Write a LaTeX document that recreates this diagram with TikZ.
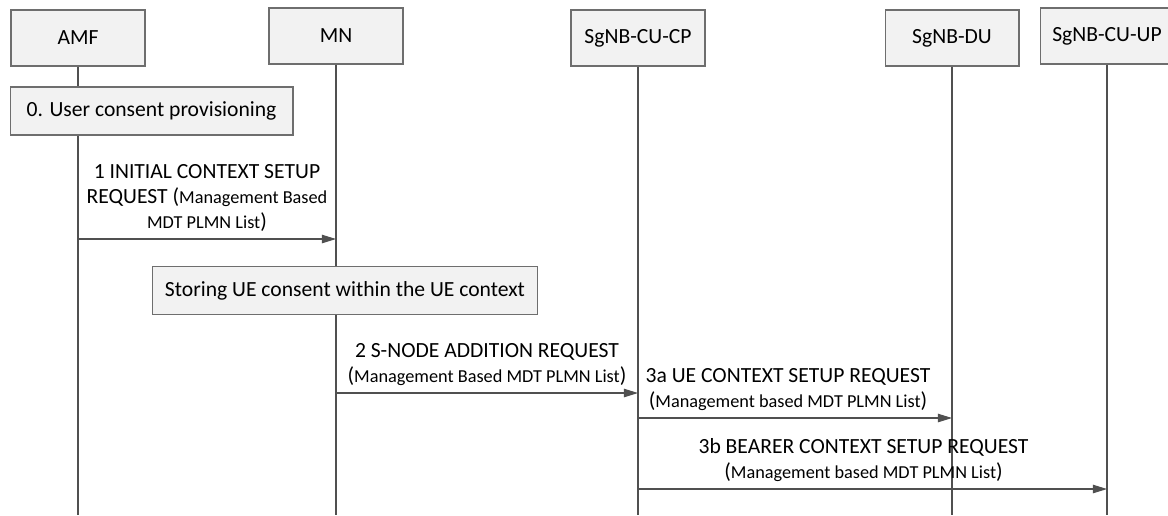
\documentclass[tikz,border=0pt]{standalone}
\usepackage{fontspec}
\setmainfont{Carlito}
\usetikzlibrary{arrows.meta, positioning}

\definecolor{boxfill}{RGB}{242,242,242}
\definecolor{boxline}{RGB}{110,110,110}
\definecolor{linegray}{RGB}{80,80,80}

\newcommand{\msgfont}{\fontsize{12.3}{14.2}\selectfont}
\newcommand{\notefont}{\fontsize{10.4}{14.2}\selectfont}

\tikzset{
  entity/.style={draw=boxline, fill=boxfill, line width=0.6pt, minimum width=2.68cm, minimum height=1.12cm, font=\msgfont},
  action/.style={draw=boxline, fill=boxfill, line width=0.6pt, minimum height=0.96cm, font=\msgfont},
  life/.style={draw=linegray, line width=0.6pt},
  msg/.style={draw=linegray, line width=0.6pt, -{Triangle[length=8pt, width=4.8pt]}},
  lbl/.style={align=center, font=\msgfont, inner sep=1pt}
}

\begin{document}
\begin{tikzpicture}[x=0.02cm, y=-0.02cm]
\useasboundingbox (0,0) rectangle (1168,515);

% lifeline heads
\node[entity] (amf) at (78,38) {AMF};
\node[entity] (mn) at (336,36) {MN};
\node[entity] (cucp) at (638,38) {SgNB-CU-CP};
\node[entity] (du) at (952,38) {SgNB-DU};
\node[entity] (cuup) at (1107,36) {SgNB-CU-UP};

% lifelines
\coordinate (bottom) at (0,515);
\foreach \n in {amf,mn,cucp,du,cuup}
  \draw[life] (\n.south) -- (\n.south |- bottom);

% local actions
\node[action, minimum width=5.66cm] (consent) at (151.5,111) {0. User consent provisioning};
\node[action, minimum width=7.72cm] (store) at (345,290.5) {Storing UE consent within the UE context};

% message rows
\coordinate (m1) at (0,239);
\coordinate (m2) at (0,393);
\coordinate (m3a) at (0,418);
\coordinate (m3b) at (0,489);

% messages
\draw[msg] (amf |- m1) -- node[lbl, above=3pt] {1 INITIAL CONTEXT SETUP\\REQUEST ({\notefont Management Based}\\{\notefont MDT PLMN List})} (mn |- m1);
\draw[msg] (mn |- m2) -- node[lbl, above=3pt] {2 S-NODE ADDITION REQUEST\\({\notefont Management Based MDT PLMN List})} (cucp |- m2);
\draw[msg] (cucp |- m3a) -- node[lbl, above=3pt, xshift=-0.14cm] {3a UE CONTEXT SETUP REQUEST\\({\notefont Management based MDT PLMN List})} (du |- m3a);
\draw[msg] (cucp |- m3b) -- node[lbl, above=3pt, xshift=-0.18cm] {3b BEARER CONTEXT SETUP REQUEST\\({\notefont Management based MDT PLMN List})} (cuup |- m3b);
\end{tikzpicture}
\end{document}
